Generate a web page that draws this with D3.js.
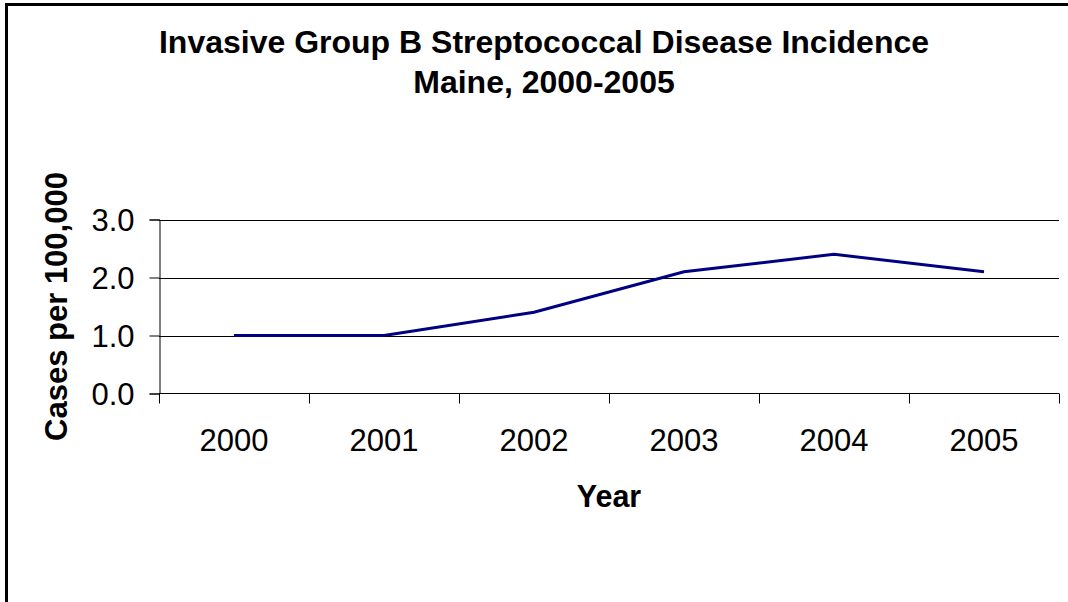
<!DOCTYPE html>
<html>
<head>
<meta charset="utf-8">
<script src="https://cdn.jsdelivr.net/npm/d3@7/dist/d3.min.js"></script>
<style>
html,body{margin:0;padding:0;background:#fff;overflow:hidden;}
svg{display:block;font-family:"Liberation Sans",Arial,sans-serif;}
</style>
</head>
<body>
<svg id="chart" width="1068" height="602"></svg>
<script>
const years = ["2000","2001","2002","2003","2004","2005"];
const rates = [1.0, 1.0, 1.4, 2.1, 2.4, 2.1];
const yTicks = [0, 1, 2, 3];
const titleLines = ["Invasive Group B Streptococcal Disease Incidence", "Maine, 2000-2005"];
const xTitle = "Year";
const yTitle = "Cases per 100,000";

const svg = d3.select("#chart");
const plot = {left: 159, right: 1059, top: 219.5, bottom: 393.5};

// outer frame (extends beyond right/bottom edges)
svg.append("rect")
  .attr("x", 6.5).attr("y", 4.5)
  .attr("width", 1200).attr("height", 800)
  .attr("fill", "none").attr("stroke", "#000").attr("stroke-width", 3);

const x = d3.scaleBand().domain(years).range([plot.left, plot.right]).padding(0);
const y = d3.scaleLinear().domain([0, 3]).range([plot.bottom, plot.top]);

// gridlines
svg.append("g").selectAll("line").data(yTicks.filter(d => d > 0)).join("line")
  .attr("x1", plot.left).attr("x2", plot.right)
  .attr("y1", d => Math.round(y(d)) + 0.5).attr("y2", d => Math.round(y(d)) + 0.5)
  .attr("stroke", "#000").attr("stroke-width", 1);

// y axis
const yAxis = d3.axisLeft(y).tickValues(yTicks).tickFormat(d3.format(".1f")).tickSize(10).tickPadding(15);
const gy = svg.append("g").attr("transform", `translate(${plot.left + 0.5},0)`).call(yAxis);
gy.select(".domain").attr("stroke", "#000");
gy.selectAll(".tick line").attr("stroke", "#000");
gy.selectAll(".tick text").attr("font-size", 31).attr("fill", "#000")
  .attr("font-family", "Liberation Sans, Arial, sans-serif").attr("dy", "0.36em");
gy.selectAll(".tick").attr("transform", d => `translate(0,${Math.round(y(d))})`);

// x axis: ticks at category boundaries
const gx = svg.append("g").attr("transform", `translate(0,${plot.bottom})`);
gx.append("line").attr("x1", plot.left).attr("x2", plot.right).attr("y1", 0).attr("y2", 0).attr("stroke", "#000");
const bounds = years.map(d => x(d)).concat([x(years[years.length - 1]) + x.bandwidth()]);
gx.selectAll("line.tk").data(bounds).join("line").attr("class", "tk")
  .attr("x1", d => Math.round(d) + 0.5).attr("x2", d => Math.round(d) + 0.5)
  .attr("y1", 0).attr("y2", 10).attr("stroke", "#000");
gx.selectAll("text").data(years).join("text")
  .attr("x", d => x(d) + x.bandwidth() / 2).attr("y", 57)
  .attr("text-anchor", "middle").attr("font-size", 31).attr("fill", "#000")
  .text(d => d);

// line
const line = d3.line().x((d, i) => x(years[i]) + x.bandwidth() / 2).y(d => y(d));
svg.append("path").datum(rates)
  .attr("d", line).attr("fill", "none")
  .attr("stroke", "#000080").attr("stroke-width", 3).attr("stroke-linejoin", "miter");

// titles
svg.append("g").selectAll("text").data(titleLines).join("text")
  .attr("x", 544).attr("y", (d, i) => 53 + i * 40)
  .attr("text-anchor", "middle").attr("font-size", 32).attr("font-weight", "bold")
  .text(d => d);

svg.append("text").attr("x", (plot.left + plot.right) / 2).attr("y", 507)
  .attr("text-anchor", "middle").attr("font-size", 30.5).attr("font-weight", "bold")
  .text(xTitle);

svg.append("text")
  .attr("transform", `translate(67,${(plot.top + plot.bottom) / 2}) rotate(-90)`)
  .attr("text-anchor", "middle").attr("font-size", 31).attr("font-weight", "bold")
  .text(yTitle);
</script>
</body>
</html>
